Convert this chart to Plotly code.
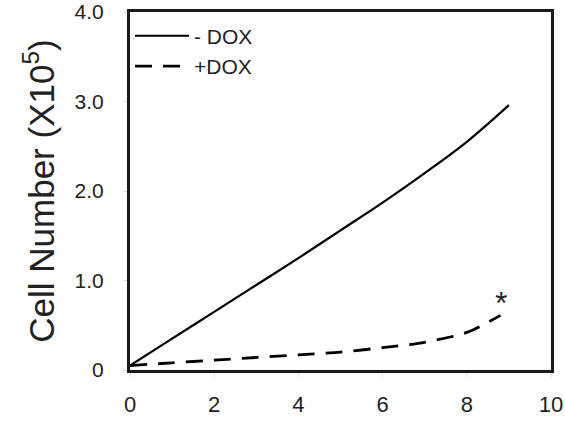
import plotly.graph_objects as go

days = [0, 1, 2, 3, 4, 5, 6, 7, 8, 9]
minus_dox = [0.05, 0.35, 0.65, 0.95, 1.25, 1.56, 1.87, 2.2, 2.55, 2.96]
days_plus = [0, 1, 2, 3, 4, 5, 6, 7, 8, 8.8]
plus_dox = [0.05, 0.08, 0.11, 0.14, 0.17, 0.2, 0.25, 0.31, 0.42, 0.61]
x_ticks = [0, 2, 4, 6, 8, 10]
y_ticks = [0, 1, 2, 3, 4]
y_tick_labels = ["0", "1.0", "2.0", "3.0", "4.0"]

font = "Liberation Sans, Arial, sans-serif"

fig = go.Figure()
fig.add_trace(go.Scatter(x=days, y=minus_dox, mode="lines", name="- DOX", legendgroup="a",
                         line=dict(color="black", width=2.2, shape="spline", smoothing=1.0)))
fig.add_trace(go.Scatter(x=days_plus, y=plus_dox, mode="lines", name="+DOX", legendgroup="b",
                         line=dict(color="black", width=2.8, dash="17px,11px", shape="spline", smoothing=0.8)))
fig.add_annotation(x=8.8, y=0.61, text="*", showarrow=False, yshift=12, xshift=1,
                   font=dict(size=32, color="#222", family=font))

fig.update_layout(
    width=565, height=421,
    margin=dict(l=130, r=14, t=12, b=51),
    paper_bgcolor="white", plot_bgcolor="white",
    font=dict(family=font, size=21, color="#222"),
    showlegend=True,
    legend=dict(x=0.0, y=0.99, xanchor="left", yanchor="top", bgcolor="rgba(0,0,0,0)",
                font=dict(size=21, color="#222"), itemwidth=54, tracegroupgap=0),
    xaxis=dict(range=[0, 10], tickvals=x_ticks, showgrid=False, zeroline=False, automargin=False,
               showline=True, linecolor="#1a1a1a", linewidth=3, mirror=True,
               ticks="outside", ticklen=4, tickcolor="#ddd", tickwidth=1,
               ticklabelstandoff=9, tickfont=dict(size=22, color="#222")),
    yaxis=dict(range=[0, 4], tickvals=y_ticks, ticktext=y_tick_labels, showgrid=False, zeroline=False,
               automargin=False,
               showline=True, linecolor="#1a1a1a", linewidth=3, mirror=True,
               ticks="outside", ticklen=4, tickcolor="#ddd", tickwidth=1,
               ticklabelstandoff=15, tickfont=dict(size=21, color="#222")),
)
fig.update_yaxes(title=dict(text="Cell Number (X10<sup>5</sup>)", font=dict(size=35, color="#222"), standoff=10))

fig.write_html("out.html")
